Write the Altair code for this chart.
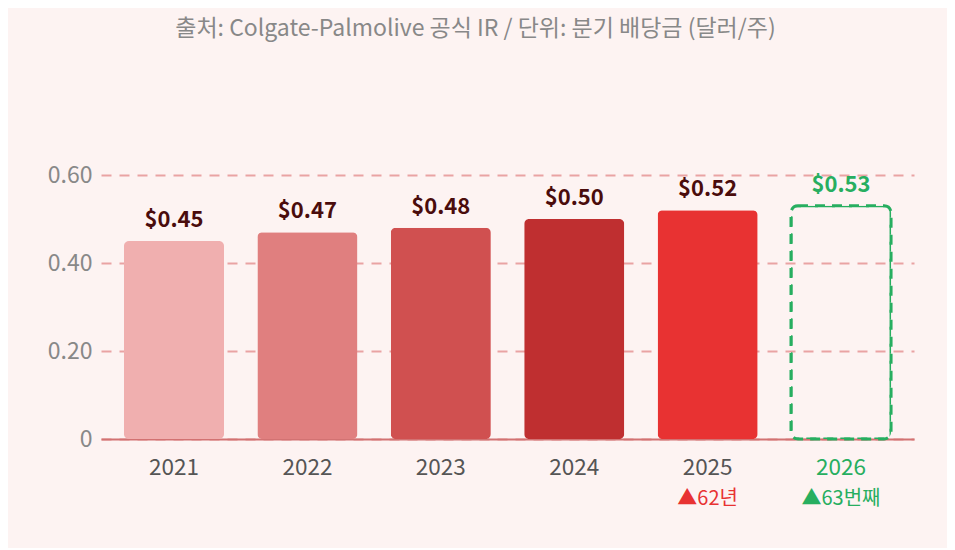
import altair as alt
import pandas as pd

years = ["2021", "2022", "2023", "2024", "2025", "2026"]
dividends = [0.45, 0.47, 0.48, 0.50, 0.52, 0.53]
value_labels = ["$0.45", "$0.47", "$0.48", "$0.50", "$0.52", "$0.53"]
bar_colors = ["#f0afaf", "#e07f7f", "#d05050", "#bf2f30", "#e83232", "#27ae60"]
label_colors = ["#4a0c0c", "#4a0c0c", "#4a0c0c", "#4a0c0c", "#4a0c0c", "#27ae60"]
kinds = ["actual", "actual", "actual", "actual", "actual", "forecast"]
sub_labels = ["", "", "", "", "▲62년", "▲63번째"]
sub_colors = ["#e83232", "#e83232", "#e83232", "#e83232", "#e83232", "#27ae60"]

title_text = "출처: Colgate-Palmolive 공식 IR / 단위: 분기 배당금 (달러/주)"
FONT = "Noto Sans CJK KR"

df = pd.DataFrame({
    "year": years,
    "value": dividends,
    "label": value_labels,
    "bar_color": bar_colors,
    "label_color": label_colors,
    "kind": kinds,
    "sub": sub_labels,
    "sub_color": sub_colors,
})

x = alt.X(
    "year:N",
    sort=years,
    scale=alt.Scale(paddingInner=0.25, paddingOuter=0.172),
    axis=alt.Axis(
        title=None,
        labelAngle=0,
        labelFontSize=22.5,
        labelFont=FONT,
        labelColor={"condition": {"test": "datum.value === '2026'", "value": "#27ae60"}, "value": "#555555"},
        labelPadding=17,
        domainColor="#d27272",
        domainWidth=2,
        ticks=False,
        grid=False,
    ),
)
y = alt.Y(
    "value:Q",
    scale=alt.Scale(domain=[0, 0.6], nice=False),
    axis=alt.Axis(
        title=None,
        values=[0, 0.2, 0.4, 0.6],
        labelExpr="datum.value == 0 ? '0' : format(datum.value, '.2f')",
        labelFontSize=23,
        labelFont=FONT,
        labelColor="#888888",
        labelPadding=9,
        gridColor="#e9a3a3",
        gridDash=[10, 8],
        gridWidth=2,
        domain=False,
        ticks=False,
    ),
)

base = alt.Chart(df)

bars = base.transform_filter("datum.kind === 'actual'").mark_bar(cornerRadius=5).encode(
    x=x, y=y, color=alt.Color("bar_color:N", scale=None)
)
forecast = base.transform_filter("datum.kind === 'forecast'").mark_bar(
    cornerRadius=7, fillOpacity=0, stroke="#27ae60", strokeWidth=3, strokeDash=[10, 7]
).encode(x=x, y=y)

values = base.mark_text(
    baseline="alphabetic", dy=-14, fontSize=22, fontWeight="bold", font=FONT
).encode(x=x, y=y, text="label:N", color=alt.Color("label_color:N", scale=None))

subs = base.mark_text(baseline="middle", fontSize=20, font=FONT).encode(
    x=x, y=alt.value(324), text="sub:N", color=alt.Color("sub_color:N", scale=None)
)

chart = alt.layer(bars, forecast, values, subs).properties(
    width=813,
    height=264,
    background="#fdf3f2",
    padding={"left": 93, "top": 167, "right": 33, "bottom": 109},
    autosize=alt.AutoSizeParams(type="none"),
    title=alt.TitleParams(
        title_text,
        fontSize=23,
        font=FONT,
        fontWeight="normal",
        color="#888888",
        anchor="middle",
        frame="group",
        baseline="bottom",
        offset=100,
        dx=-32,
    ),
).configure_view(stroke=None)

chart.save("out.html", embed_options={"renderer": "svg", "actions": False})
